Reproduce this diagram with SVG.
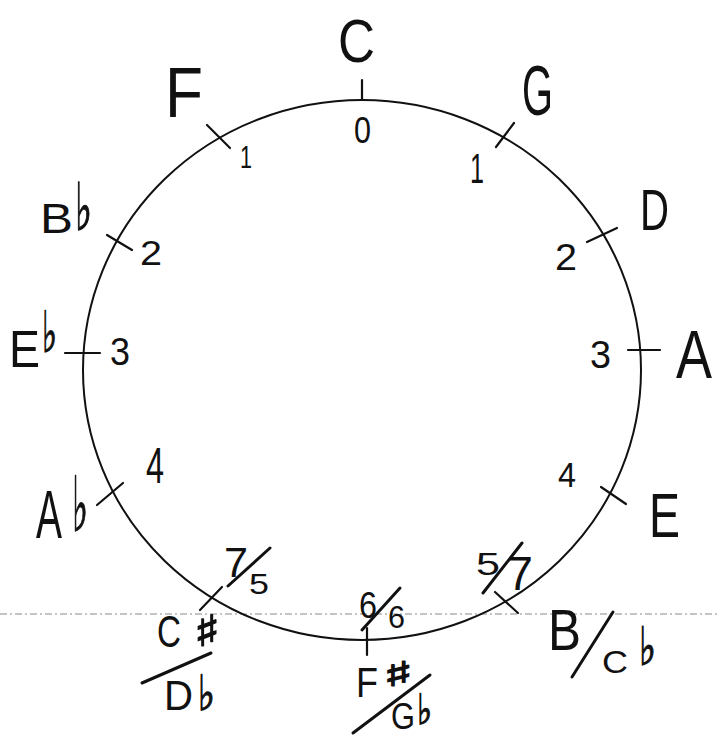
<svg xmlns="http://www.w3.org/2000/svg" width="720" height="737" viewBox="0 0 720 737">
<style>
  .t { font-family: "Liberation Sans", "DejaVu Sans", sans-serif; fill: #111; }
  .s { font-family: "DejaVu Sans", "Liberation Sans", sans-serif; fill: #111; stroke: #111; stroke-width: 1.2; }
  .tick { stroke: #111; stroke-width: 2.2; stroke-linecap: round; fill: none; }
  .slash { stroke: #111; stroke-width: 3; stroke-linecap: round; fill: none; }
  .scan { stroke: #888; stroke-width: 1; stroke-dasharray: 7 3 2 3; fill: none; }
</style>
<rect width="720" height="737" fill="#fff"/>
<line class="scan" x1="0" y1="614" x2="720" y2="614"/>
<g id="circle">
  <ellipse cx="362" cy="370" rx="279" ry="270" fill="none" stroke="#111" stroke-width="2"/>
</g>
<g id="connectors"></g>
<g id="key-C">
  <line class="tick" x1="362" y1="80" x2="362" y2="100"/>
  <text class="t" x="338" y="62" font-size="62" textLength="37" lengthAdjust="spacingAndGlyphs">C</text>
  <text class="t" x="354" y="143" font-size="36" textLength="17" lengthAdjust="spacingAndGlyphs">0</text>
</g>
<g id="key-F">
  <line class="tick" x1="207" y1="125" x2="230" y2="148"/>
  <text class="t" x="165" y="117" font-size="70" textLength="38" lengthAdjust="spacingAndGlyphs">F</text>
  <text class="t" x="240" y="168" font-size="32" textLength="12" lengthAdjust="spacingAndGlyphs">1</text>
</g>
<g id="key-G">
  <line class="tick" x1="496" y1="147" x2="514" y2="123"/>
  <text class="t" x="522" y="115" font-size="70" textLength="31" lengthAdjust="spacingAndGlyphs">G</text>
  <text class="t" x="470" y="183" font-size="42" textLength="14" lengthAdjust="spacingAndGlyphs">1</text>
</g>
<g id="key-Bb">
  <line class="tick" x1="107" y1="235" x2="132" y2="250"/>
  <text class="t" x="40" y="233" font-size="43" textLength="33" lengthAdjust="spacingAndGlyphs">B</text>
  <text class="s" x="75" y="230" font-size="66" textLength="17" lengthAdjust="spacingAndGlyphs">♭</text>
  <text class="t" x="140" y="265" font-size="35" textLength="22" lengthAdjust="spacingAndGlyphs">2</text>
</g>
<g id="key-D">
  <line class="tick" x1="587" y1="242" x2="617" y2="228"/>
  <text class="t" x="640" y="230" font-size="58" textLength="29" lengthAdjust="spacingAndGlyphs">D</text>
  <text class="t" x="555" y="270" font-size="37" textLength="22" lengthAdjust="spacingAndGlyphs">2</text>
</g>
<g id="key-Eb">
  <line class="tick" x1="65" y1="353" x2="100" y2="353"/>
  <text class="t" x="9" y="367" font-size="51" textLength="31" lengthAdjust="spacingAndGlyphs">E</text>
  <text class="s" x="42" y="352" font-size="57" textLength="15" lengthAdjust="spacingAndGlyphs">♭</text>
  <text class="t" x="110" y="365" font-size="39" textLength="20" lengthAdjust="spacingAndGlyphs">3</text>
</g>
<g id="key-A">
  <line class="tick" x1="628" y1="350" x2="660" y2="350"/>
  <text class="t" x="676" y="378" font-size="68" textLength="36" lengthAdjust="spacingAndGlyphs">A</text>
  <text class="t" x="590" y="368" font-size="39" textLength="21" lengthAdjust="spacingAndGlyphs">3</text>
</g>
<g id="key-Ab">
  <line class="tick" x1="97" y1="505" x2="123" y2="483"/>
  <text class="t" x="36" y="538" font-size="69" textLength="26" lengthAdjust="spacingAndGlyphs">A</text>
  <text class="s" x="72" y="531" font-size="76" textLength="16" lengthAdjust="spacingAndGlyphs">♭</text>
  <text class="t" x="146" y="483" font-size="50" textLength="18" lengthAdjust="spacingAndGlyphs">4</text>
</g>
<g id="key-E">
  <line class="tick" x1="601" y1="487" x2="626" y2="504"/>
  <text class="t" x="649" y="537" font-size="63" textLength="31" lengthAdjust="spacingAndGlyphs">E</text>
  <text class="t" x="558" y="487" font-size="35" textLength="18" lengthAdjust="spacingAndGlyphs">4</text>
</g>
<g id="key-B-Cb">
  <line class="tick" x1="495" y1="592" x2="518" y2="613"/>
  <text class="t" x="476" y="575" font-size="31" textLength="24" lengthAdjust="spacingAndGlyphs">5</text>
  <line class="slash" x1="483" y1="593" x2="522" y2="543"/>
  <text class="t" x="507" y="590" font-size="49" textLength="26" lengthAdjust="spacingAndGlyphs">7</text>
  <text class="t" x="548" y="650" font-size="58" textLength="33" lengthAdjust="spacingAndGlyphs">B</text>
  <line class="slash" x1="572" y1="677" x2="613" y2="612"/>
  <text class="t" x="602" y="673" font-size="32" textLength="26" lengthAdjust="spacingAndGlyphs">C</text>
  <text class="s" x="639" y="665" font-size="53" textLength="17" lengthAdjust="spacingAndGlyphs">♭</text>
</g>
<g id="key-Fs-Gb">
  <line class="tick" x1="367" y1="628" x2="367" y2="655"/>
  <text class="t" x="359" y="618" font-size="36" textLength="18" lengthAdjust="spacingAndGlyphs">6</text>
  <line class="slash" x1="362" y1="630" x2="400" y2="588"/>
  <text class="t" x="388" y="628" font-size="32" textLength="17" lengthAdjust="spacingAndGlyphs">6</text>
  <text class="t" x="356" y="697" font-size="42" textLength="22" lengthAdjust="spacingAndGlyphs">F</text>
  <text class="s" x="383" y="686" font-size="34" textLength="30" lengthAdjust="spacingAndGlyphs">♯</text>
  <line class="slash" x1="353" y1="733" x2="430" y2="675"/>
  <text class="t" x="391" y="729" font-size="36" textLength="24" lengthAdjust="spacingAndGlyphs">G</text>
  <text class="s" x="417" y="724" font-size="42" textLength="15" lengthAdjust="spacingAndGlyphs">♭</text>
</g>
<g id="key-Cs-Db">
  <line class="tick" x1="200" y1="610" x2="222" y2="587"/>
  <text class="t" x="224" y="577" font-size="42" textLength="24" lengthAdjust="spacingAndGlyphs">7</text>
  <line class="slash" x1="228" y1="586" x2="270" y2="548"/>
  <text class="t" x="249" y="594" font-size="29" textLength="20" lengthAdjust="spacingAndGlyphs">5</text>
  <text class="t" x="157" y="647" font-size="44" textLength="24" lengthAdjust="spacingAndGlyphs">C</text>
  <text class="s" x="194" y="646" font-size="43" textLength="27" lengthAdjust="spacingAndGlyphs">♯</text>
  <line class="slash" x1="142" y1="683" x2="211" y2="653"/>
  <text class="t" x="164" y="710" font-size="42" textLength="29" lengthAdjust="spacingAndGlyphs">D</text>
  <text class="s" x="198" y="710" font-size="49" textLength="17" lengthAdjust="spacingAndGlyphs">♭</text>
</g>
</svg>
